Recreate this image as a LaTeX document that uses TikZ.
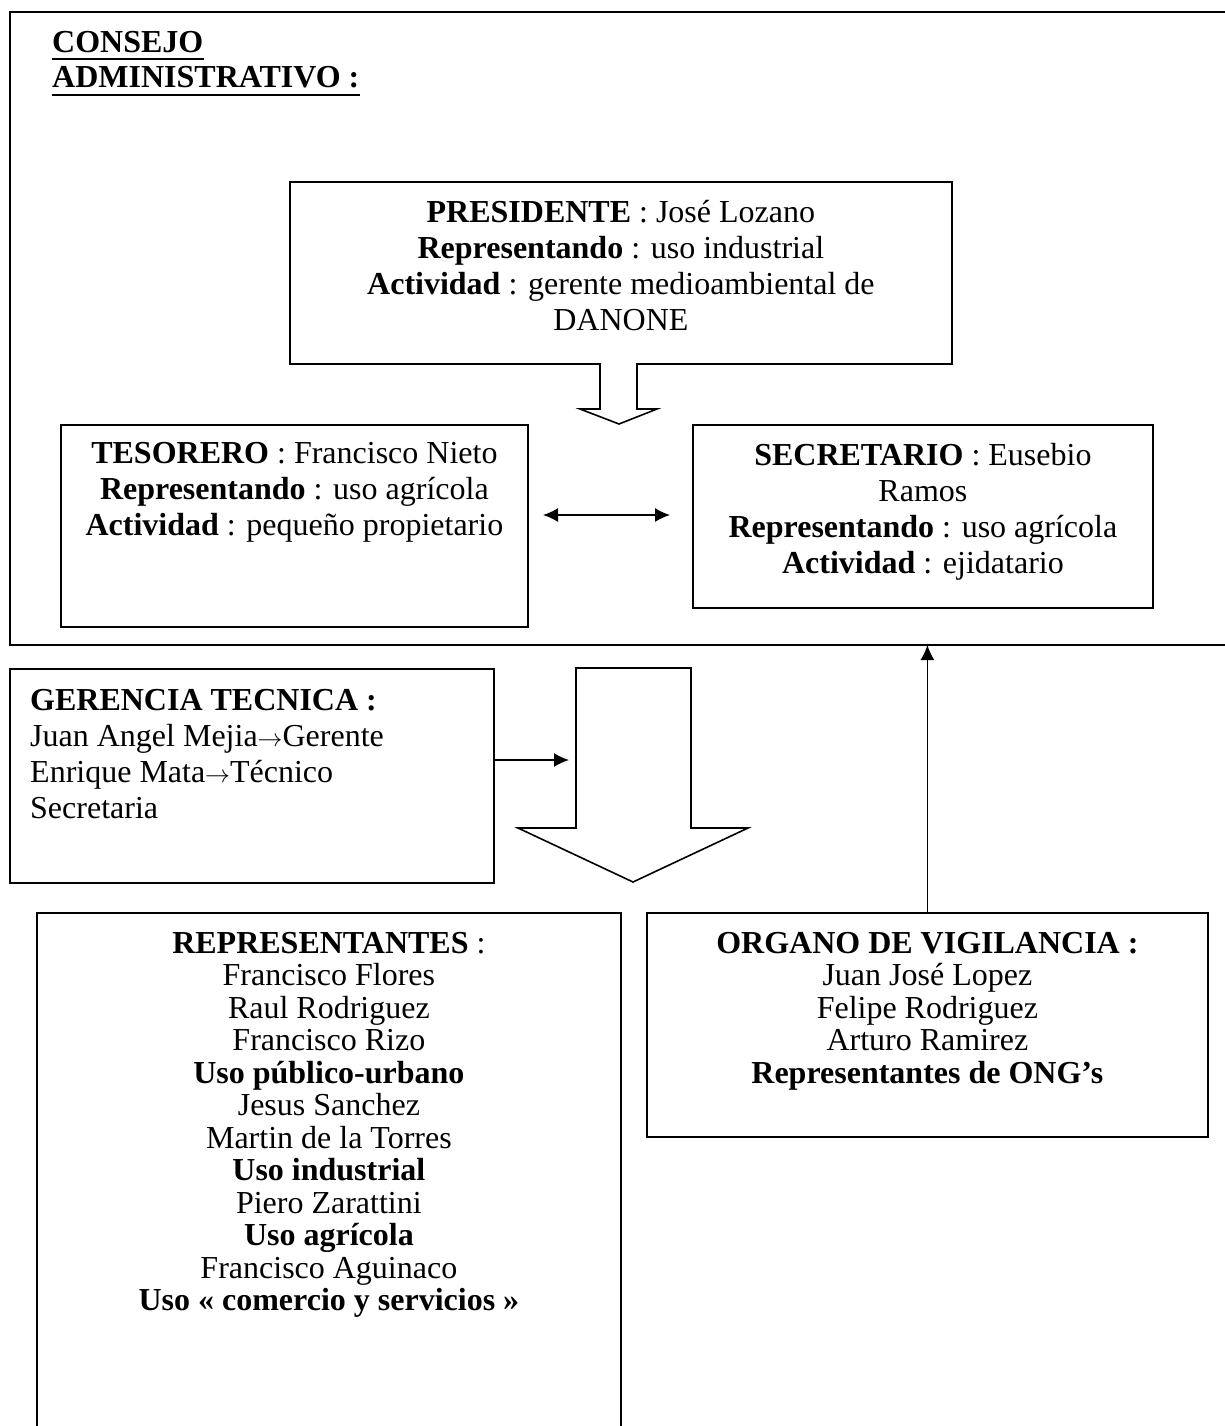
\documentclass[tikz,border=0pt]{standalone}
\usepackage{fontspec}
\setmainfont{Liberation Serif}
\usetikzlibrary{arrows.meta}
\begin{document}
\begin{tikzpicture}[x=1pt,y=-1pt,
  frame/.style={draw, line width=1.8pt, inner sep=0pt, anchor=north west},
  body/.style={font=\fontsize{32}{36}\selectfont, align=center, inner sep=0pt, anchor=base},
  tightbody/.style={body, font=\fontsize{32}{32.5}\selectfont},
  link/.style={line width=1.5pt},
  tip/.style={-{Latex[length=15pt,width=14pt]}},
  hollow/.style={draw, line width=1.6pt, line join=miter, fill=white},
]
\useasboundingbox (0,0) rectangle (1224,1426);

% board frame, open on the right
\draw[line width=1.8pt] (1240,12) -- (10,12) -- (10,645) -- (1240,645);
\coordinate (boardbottom) at (0,645);

% board title
\node[font=\fontsize{32}{36}\selectfont\bfseries, anchor=base west, inner sep=0pt] (title1) at (52,53) {CONSEJO};
\node[font=\fontsize{32}{36}\selectfont\bfseries, anchor=base west, inner sep=0pt] (title2) at (52,88) {ADMINISTRATIVO :};
\draw[line width=2.6pt] ([yshift=-6pt]title1.base west) -- ([yshift=-6pt]title1.base east);
\draw[line width=2.6pt] ([yshift=-7pt]title2.base west) -- ([yshift=-7pt]title2.base east);

% boxes
\node[frame, minimum width=662pt, minimum height=182pt] (pres) at (289,181) {};
\node[frame, minimum width=467pt, minimum height=202pt] (tes) at (60,424) {};
\node[frame, minimum width=460pt, minimum height=183pt] (sec) at (692,424) {};
\node[frame, minimum width=484pt, minimum height=214pt] (ger) at (9,668) {};
\node[frame, minimum width=584pt, minimum height=560pt] (rep) at (36,912) {};
\node[frame, minimum width=561pt, minimum height=224pt] (org) at (646,912) {};

% box texts (anchored on the baseline of their last line)
\node[body] (presT) at ([yshift=-149pt]pres.north) {\textbf{PRESIDENTE} : José Lozano\\
  \textbf{Representando} : uso industrial\\
  \textbf{Actividad} : gerente medioambiental de\\
  DANONE};
\node[body] (tesT) at ([yshift=-111pt]tes.north) {\textbf{TESORERO} : Francisco Nieto\\
  \textbf{Representando} : uso agrícola\\
  \textbf{Actividad} : pequeño propietario};
\node[body] (secT) at ([yshift=-149pt]sec.north) {\textbf{SECRETARIO} : Eusebio\\
  Ramos\\
  \textbf{Representando} : uso agrícola\\
  \textbf{Actividad} : ejidatario};
\node[body, align=left, anchor=base west] (gerT) at (30,818) {\textbf{GERENCIA TECNICA :}\\
  Juan Angel Mejia$\rightarrow$Gerente\\
  Enrique Mata$\rightarrow$Técnico\\
  Secretaria};
\node[tightbody] (repT) at ([yshift=-398.5pt]rep.north) {\textbf{REPRESENTANTES} :\\
  Francisco Flores\\
  Raul Rodriguez\\
  Francisco Rizo\\
  \textbf{Uso público-urbano}\\
  Jesus Sanchez\\
  Martin de la Torres\\
  \textbf{Uso industrial}\\
  Piero Zarattini\\
  \textbf{Uso agrícola}\\
  Francisco Aguinaco\\
  \textbf{Uso « comercio y servicios »}};
\node[tightbody] (orgT) at ([yshift=-171pt]org.north) {\textbf{ORGANO DE VIGILANCIA :}\\
  Juan José Lopez\\
  Felipe Rodriguez\\
  Arturo Ramirez\\
  \textbf{Representantes de ONG’s}};

% hollow block arrows
\draw[hollow] (600,363) -- (600,409) -- (580,409) -- (619,424) -- (657,409) -- (637,409) -- (637,363);
\draw[hollow] (576,668) -- (691,668) -- (691,828) -- (748,828) -- (633,882) -- (518,828) -- (576,828) -- cycle;

% connectors
\coordinate (bigin) at (569,760);
\coordinate (dblL) at (543,515);
\coordinate (dblR) at (670,515);
\draw[link, tip] (ger.east |- bigin) -- (bigin);
\draw[link, {Latex[length=15pt,width=14pt]}-{Latex[length=15pt,width=14pt]}] (dblL) -- (dblR);
\draw[link, tip] (org.north) -- (org.north |- boardbottom);
\end{tikzpicture}
\end{document}
